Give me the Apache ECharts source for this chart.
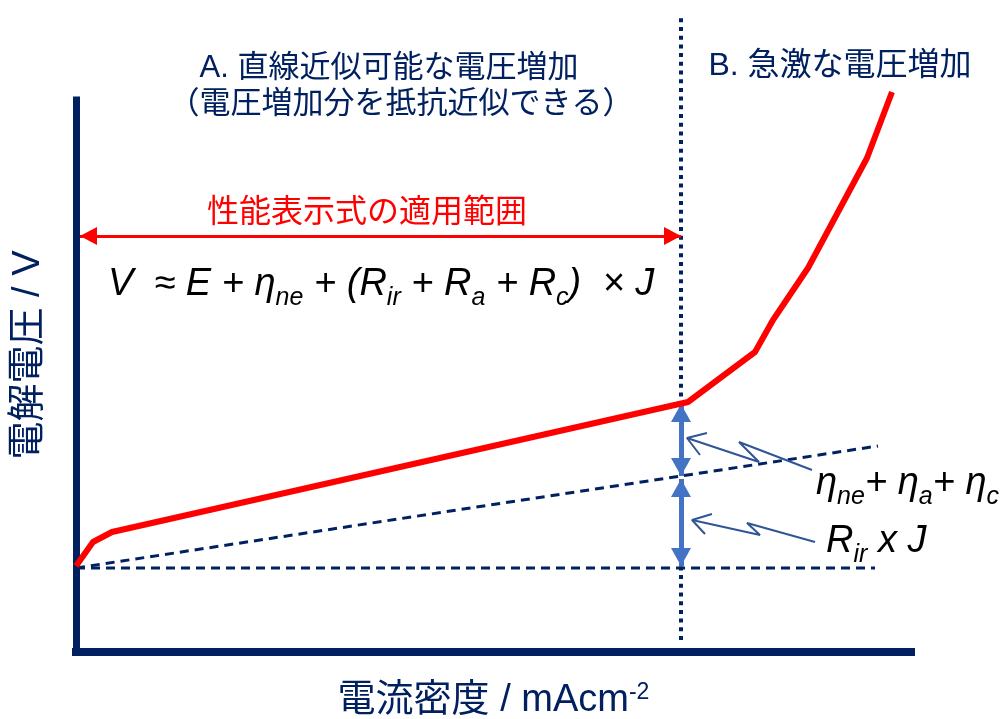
<!DOCTYPE html>
<html>
<head>
<meta charset="utf-8">
<script src="https://cdn.jsdelivr.net/npm/echarts@6/dist/echarts.min.js"></script>
<style>
    html, body { margin: 0; padding: 0; background: #ffffff; }
    #chart { width: 1004px; height: 719px; }
</style>
</head>
<body>
<div id="chart"></div>
<script>
// Schematic polarization curve, coordinates
// x = current density (arbitrary units), y = cell voltage (arbitrary units)
const redCurve = [[0, 86], [17, 110], [36, 120], [612, 250], [679, 300], [697, 332], [732, 384], [791, 494], [816, 560]];
const baseLine = [[0, 84], [799, 84]];
const ohmicLine = [[0, 84], [802, 206]];
const divider = [[605, 12], [605, 637]];

// arrows: [from, to] tips
const rangeArrow = [[4, 416], [605, 416]];
const kineticArrow = [[605, 248], [605, 176]];
const ohmicArrow = [[605, 173], [605, 86]];

// lightning-style pointers (head first) and their open heads
const pointerEta = [[611, 214], [683, 190], [663, 210], [736, 182]];
const pointerEtaHead = [[631, 219], [611, 214], [624, 197]];
const pointerIr = [[616, 132], [684, 117], [671, 129], [739, 110]];
const pointerIrHead = [[636, 138], [616, 132], [629, 118]];

const NAVY = '#002060';
const RED = '#ff0000';
const BLUE = '#4472c4';
const POINTER = '#2f5597';
const JP = "'Liberation Sans', 'Noto Sans CJK JP', sans-serif";
const LATIN = "'Liberation Sans', Arial, sans-serif";

const chart = echarts.init(document.getElementById('chart'), null, { renderer: 'canvas' });

function arrowLine(pts, color, width, size) {
    return {
        silent: true,
        symbol: ['triangle', 'triangle'],
        symbolSize: size,
        symbolOffset: [[0, size[1] / 2], [0, size[1] / 2]],
        label: { show: false },
        lineStyle: { color: color, width: width, type: 'solid', opacity: 1 },
        emphasis: { disabled: true },
        data: [[{ coord: pts[0] }, { coord: pts[1] }]]
    };
}

function plain(name, data, color, width, type, z) {
    return {
        name: name,
        type: 'line',
        data: data,
        symbol: 'none',
        clip: false,
        silent: true,
        z: z || 2,
        lineStyle: { color: color, width: width, type: type || 'solid' }
    };
}

const mainFont = { fontSize: 38, fontStyle: 'italic', fontFamily: LATIN, color: NAVY };
const subFont = { fontSize: 25, fontStyle: 'italic', fontFamily: LATIN, color: NAVY, padding: [29, 0, 0, 0] };

const option = {
    animation: false,
    backgroundColor: '#ffffff',
    grid: { left: 76, right: 93, top: 100, bottom: 67, outerBoundsMode: 'none' },
    xAxis: {
        type: 'value',
        min: 0,
        max: 835,
        axisLine: { show: true, onZero: false, lineStyle: { color: NAVY, width: 8, cap: 'square' } },
        axisTick: { show: false },
        axisLabel: { show: false },
        splitLine: { show: false },
        name: '{a|電流密度 / mAcm}{b|-2}',
        nameLocation: 'middle',
        nameGap: 29,
        nameTextStyle: {
            color: NAVY,
            rich: {
                a: { fontSize: 38, fontFamily: JP, color: NAVY },
                b: { fontSize: 23, fontFamily: LATIN, color: NAVY, padding: [0, 0, 17, 0] }
            }
        }
    },
    yAxis: {
        type: 'value',
        min: 0,
        max: 552,
        axisLine: { show: true, onZero: false, lineStyle: { color: NAVY, width: 7, cap: 'square' } },
        axisTick: { show: false },
        axisLabel: { show: false },
        splitLine: { show: false }
    },
    graphic: [
        {
            type: 'text', x: 29, y: 355, rotation: Math.PI / 2,
            style: { text: '電解電圧 / V', font: '38px ' + JP, fill: NAVY, align: 'center', verticalAlign: 'middle' }
        },
        {
            type: 'text', x: 389, y: 68,
            style: { text: 'A. 直線近似可能な電圧増加', font: '31px ' + JP, fill: NAVY, align: 'center', verticalAlign: 'middle' }
        },
        {
            type: 'text', x: 401, y: 104,
            style: { text: '（電圧増加分を抵抗近似できる）', font: '31px ' + JP, fill: NAVY, align: 'center', verticalAlign: 'middle' }
        },
        {
            type: 'text', x: 840, y: 66,
            style: { text: 'B. 急激な電圧増加', font: '32px ' + JP, fill: NAVY, align: 'center', verticalAlign: 'middle' }
        },
        {
            type: 'text', x: 367, y: 213,
            style: { text: '性能表示式の適用範囲', font: '32px ' + JP, fill: RED, align: 'center', verticalAlign: 'middle' }
        },
        {
            type: 'text', x: 108, y: 284,
            style: {
                text: '{m|V  ≈ E + η}{s|ne}{m| + (R}{s|ir}{m| + R}{s|a}{m| + R}{s|c}{m|)  × J}',
                align: 'left', verticalAlign: 'middle',
                rich: { m: mainFont, s: subFont }
            }
        },
        {
            type: 'text', x: 816, y: 483,
            style: {
                text: '{m|η}{s|ne}{m|+ η}{s|a}{m|+ η}{s|c}',
                align: 'left', verticalAlign: 'middle',
                rich: { m: mainFont, s: subFont }
            }
        },
        {
            type: 'text', x: 826, y: 541,
            style: {
                text: '{m|R}{s|ir}{m| x J}',
                align: 'left', verticalAlign: 'middle',
                rich: { m: mainFont, s: subFont }
            }
        }
    ],
    series: [
        plain('divider', divider, NAVY, 4, [4, 4.7], 1),
        plain('base', baseLine, NAVY, 3, [9, 6], 2),
        plain('ohmic', ohmicLine, NAVY, 3, [9, 6], 2),
        plain('pointerEta', pointerEta, POINTER, 2, 'solid', 3),
        plain('pointerEtaHead', pointerEtaHead, POINTER, 2, 'solid', 3),
        plain('pointerIr', pointerIr, POINTER, 2, 'solid', 3),
        plain('pointerIrHead', pointerIrHead, POINTER, 2, 'solid', 3),
        Object.assign(plain('curve', redCurve, RED, 6, 'solid', 5), {
            lineStyle: { color: RED, width: 6, join: 'round' }
        }),
        Object.assign(plain('range', [], RED, 3, 'solid', 4), {
            markLine: arrowLine(rangeArrow, RED, 3, [18, 17])
        }),
        Object.assign(plain('kinetic', [], BLUE, 5, 'solid', 4), {
            markLine: arrowLine(kineticArrow, BLUE, 5, [20, 18])
        }),
        Object.assign(plain('ohmicDrop', [], BLUE, 5, 'solid', 4), {
            markLine: arrowLine(ohmicArrow, BLUE, 5, [20, 18])
        })
    ]
};

chart.setOption(option);

window.addEventListener('resize', () => {
    chart.resize();
});
</script>
</body>
</html>
